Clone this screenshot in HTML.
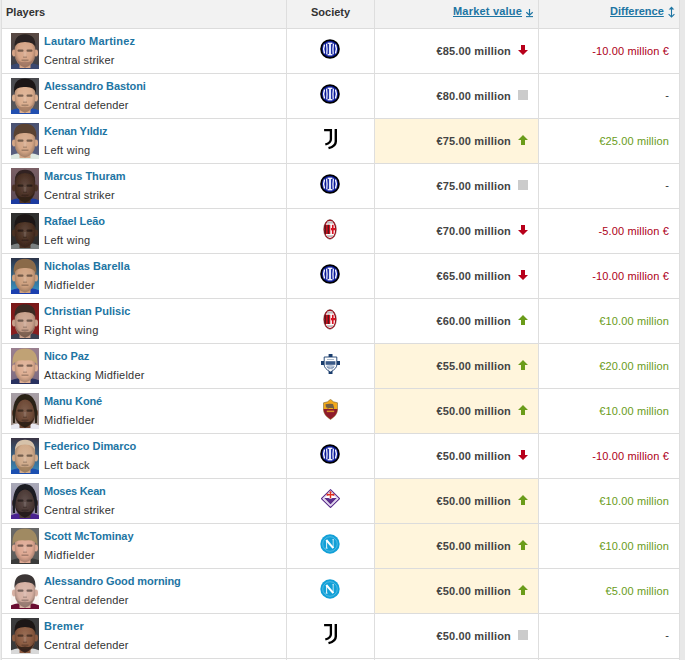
<!DOCTYPE html>
<html><head><meta charset="utf-8"><style>
html,body{margin:0;padding:0}
body{width:685px;height:660px;overflow:hidden;background:#e8e8e8;position:relative;font-family:"Liberation Sans",sans-serif;font-size:11px;color:#333}
.t{position:absolute;left:1px;top:0;width:679px;height:660px;background:#fff}
.hl{position:absolute;height:1px;background:#dcdcdc;left:1px;width:679px}
.vl{position:absolute;width:1px;background:#dedede;top:0;height:660px}
.s{position:absolute;white-space:nowrap;line-height:13px}
.nm{color:#1d75a3;font-weight:bold;left:44px}
.ps{color:#333;left:44px}
.mv{font-weight:bold;color:#444;right:174px;text-align:right;letter-spacing:0.17px}
.df{right:16px;text-align:right;letter-spacing:0.13px}
.red{color:#ad0018}.green{color:#6a9c1a}.dash{color:#333}
.ph{position:absolute;left:11px;width:28px;height:36px;overflow:hidden}
</style></head><body>
<div style="position:absolute;left:0;top:0;width:1px;height:660px;background:#ececec"></div>
<div class="t"></div>
<div style="position:absolute;left:1px;top:0;width:679px;height:28px;background:#f2f2f2"></div>

<div style="position:absolute;left:375px;top:119px;width:163px;height:44px;background:#fff5dc"></div>
<div style="position:absolute;left:375px;top:344px;width:163px;height:44px;background:#fff5dc"></div>
<div style="position:absolute;left:375px;top:389px;width:163px;height:44px;background:#fff5dc"></div>
<div style="position:absolute;left:375px;top:479px;width:163px;height:44px;background:#fff5dc"></div>
<div style="position:absolute;left:375px;top:524px;width:163px;height:44px;background:#fff5dc"></div>
<div style="position:absolute;left:375px;top:569px;width:163px;height:44px;background:#fff5dc"></div>
<div class="hl" style="top:28px"></div>
<div class="hl" style="top:73px"></div>
<div class="hl" style="top:118px"></div>
<div class="hl" style="top:163px"></div>
<div class="hl" style="top:208px"></div>
<div class="hl" style="top:253px"></div>
<div class="hl" style="top:298px"></div>
<div class="hl" style="top:343px"></div>
<div class="hl" style="top:388px"></div>
<div class="hl" style="top:433px"></div>
<div class="hl" style="top:478px"></div>
<div class="hl" style="top:523px"></div>
<div class="hl" style="top:568px"></div>
<div class="hl" style="top:613px"></div>
<div class="hl" style="top:658px"></div>
<div class="vl" style="left:1px"></div>
<div class="vl" style="left:286px"></div>
<div class="vl" style="left:374px"></div>
<div class="vl" style="left:538px"></div>
<div class="vl" style="left:679px"></div>
<div class="s" style="left:6px;top:6px;font-weight:bold;color:#333">Players</div>
<div class="s" style="left:311px;top:6px;font-weight:bold;color:#333">Society</div>
<div class="s" style="left:453px;top:5px;font-weight:bold;color:#1d75a3;text-decoration:underline;letter-spacing:0.2px">Market value</div>
<svg width="10" height="10" viewBox="0 0 10 10" style="position:absolute;left:525px;top:8px"><path d="M4.5 1 V7.2" stroke="#1d75a3" stroke-width="1.2" fill="none"/><path d="M1.3 4.3 L4.5 7.3 L7.7 4.3" stroke="#1d75a3" stroke-width="1.2" fill="none"/><path d="M1 8.6 H8" stroke="#1d75a3" stroke-width="1.1"/></svg>
<div class="s" style="left:610px;top:5px;font-weight:bold;color:#1d75a3;text-decoration:underline">Difference</div>
<svg width="8" height="12" viewBox="0 0 8 12" style="position:absolute;left:667.8px;top:6px"><path d="M3.5 0.4 L6.3 3.4 H0.7 Z" fill="#1d75a3"/><path d="M3.5 3 V10.4" stroke="#1d75a3" stroke-width="1.1" fill="none"/><path d="M0.6 8.2 L3.5 10.9 L6.4 8.2" stroke="#1d75a3" stroke-width="1.1" fill="none"/></svg>
<svg width="28" height="36" viewBox="0 0 28 36" style="position:absolute;left:11px;top:33px"><defs><linearGradient id="g0" x1="0" y1="0" x2="0" y2="1"><stop offset="0" stop-color="#5a4a44"/><stop offset="1" stop-color="#3c4048"/></linearGradient><filter id="b0" x="-10%" y="-10%" width="120%" height="120%"><feGaussianBlur stdDeviation="0.55"/></filter><clipPath id="c0"><rect width="28" height="36"/></clipPath><radialGradient id="r0" cx="0.5" cy="0.45" r="0.6"><stop offset="0" stop-color="#daae94"/><stop offset="0.6" stop-color="#d6a486"/><stop offset="1" stop-color="#95725d"/></radialGradient></defs><rect width="28" height="36" fill="url(#g0)"/><g clip-path="url(#c0)"><g filter="url(#b0)"><path d="M-2 38 V33 Q4 30.5 9 30 H19 Q24 30.5 30 33 V38 Z" fill="#3a4a70"/><rect x="8.5" y="26" width="11" height="9" fill="#d6a486"/><ellipse cx="3" cy="20" rx="2" ry="3.4" fill="#d6a486"/><ellipse cx="25" cy="20" rx="2" ry="3.4" fill="#d6a486"/><path d="M3.8 13 Q3.8 4 14 4 Q24.2 4 24.2 13 V21 Q24.2 31.5 14 34.5 Q3.8 31.5 3.8 21 Z" fill="url(#r0)"/><path d="M4.2 22 Q5.5 31 14 34.8 Q22.5 31 23.8 22 Q22.5 28.5 17.5 29 Q14 27.8 10.5 29 Q5.5 28.5 4.2 22 Z" fill="#9a7060" opacity="0.7"/><path d="M3.6 15 Q2.5 1.5 14 1.2 Q25.5 1.5 24.4 15 Q23.5 9 14 9 Q4.5 9 3.6 15 Z" fill="#2a2420"/><rect x="6.5" y="16.5" width="6" height="2.2" rx="1" fill="#000" opacity="0.45"/><rect x="15.5" y="16.5" width="6" height="2.2" rx="1" fill="#000" opacity="0.45"/><rect x="12.8" y="19" width="2.4" height="5" fill="#fff" opacity="0.12"/><rect x="12" y="23.5" width="4" height="1.3" fill="#000" opacity="0.22"/><rect x="10.5" y="26.5" width="7" height="1.4" fill="#000" opacity="0.28"/></g></g></svg>
<div class="s nm" style="top:35px;letter-spacing:0.207px">Lautaro Martinez</div>
<div class="s ps" style="top:54px;letter-spacing:0.136px">Central striker</div>
<svg width="20" height="20" viewBox="0 0 20 20" style="position:absolute;left:320px;top:38.5px"><circle cx="10" cy="10" r="9.8" fill="#000"/><circle cx="10" cy="10" r="8.1" fill="#0c1c9c"/><path d="M4.5 5.6 Q2.8 10 4.5 14.4" stroke="#fff" stroke-width="1.4" fill="none"/><path d="M15.5 5.6 Q17.2 10 15.5 14.4" stroke="#fff" stroke-width="1.4" fill="none"/><path d="M6.6 4.6 Q7.4 10 6.8 15.4" stroke="#fff" stroke-width="1.2" fill="none"/><path d="M13.4 4.6 Q12.6 10 13.2 15.4" stroke="#fff" stroke-width="1.2" fill="none"/><rect x="8.9" y="4.5" width="2.2" height="11" fill="#e0e6f8"/><rect x="7.6" y="3.6" width="4.8" height="1.3" fill="#fff"/><rect x="7.6" y="15.1" width="4.8" height="1.3" fill="#fff"/></svg>
<div class="s mv" style="top:45px">€85.00 million</div>
<svg width="10" height="10" viewBox="0 0 10 10" style="position:absolute;left:518px;top:45px"><path d="M3 0 H7 V5 H10 L5 10 L0 5 H3 Z" fill="#b8001b"/></svg>
<div class="s df red" style="top:45px">-10.00 million €</div>
<svg width="28" height="36" viewBox="0 0 28 36" style="position:absolute;left:11px;top:78px"><defs><linearGradient id="g1" x1="0" y1="0" x2="0" y2="1"><stop offset="0" stop-color="#4a4a4e"/><stop offset="1" stop-color="#5a5a5e"/></linearGradient><filter id="b1" x="-10%" y="-10%" width="120%" height="120%"><feGaussianBlur stdDeviation="0.55"/></filter><clipPath id="c1"><rect width="28" height="36"/></clipPath><radialGradient id="r1" cx="0.5" cy="0.45" r="0.6"><stop offset="0" stop-color="#e0b79b"/><stop offset="0.6" stop-color="#dcae8e"/><stop offset="1" stop-color="#9a7963"/></radialGradient></defs><rect width="28" height="36" fill="url(#g1)"/><g clip-path="url(#c1)"><g filter="url(#b1)"><path d="M-2 38 V33 Q4 30.5 9 30 H19 Q24 30.5 30 33 V38 Z" fill="#2050b0"/><rect x="8.5" y="26" width="11" height="9" fill="#dcae8e"/><ellipse cx="3" cy="20" rx="2" ry="3.4" fill="#dcae8e"/><ellipse cx="25" cy="20" rx="2" ry="3.4" fill="#dcae8e"/><path d="M3.8 13 Q3.8 4 14 4 Q24.2 4 24.2 13 V21 Q24.2 31.5 14 34.5 Q3.8 31.5 3.8 21 Z" fill="url(#r1)"/><path d="M4.2 22 Q5.5 31 14 34.8 Q22.5 31 23.8 22 Q22.5 28.5 17.5 29 Q14 27.8 10.5 29 Q5.5 28.5 4.2 22 Z" fill="#a07860" opacity="0.7"/><path d="M3.2 15 Q1.5 0.5 14 0.5 Q26.5 0.5 24.8 15 Q23.5 8.5 14 9 Q4.5 8.5 3.2 15 Z" fill="#1c1816"/><rect x="6.5" y="16.5" width="6" height="2.2" rx="1" fill="#000" opacity="0.45"/><rect x="15.5" y="16.5" width="6" height="2.2" rx="1" fill="#000" opacity="0.45"/><rect x="12.8" y="19" width="2.4" height="5" fill="#fff" opacity="0.12"/><rect x="12" y="23.5" width="4" height="1.3" fill="#000" opacity="0.22"/><rect x="10.5" y="26.5" width="7" height="1.4" fill="#000" opacity="0.28"/></g></g></svg>
<div class="s nm" style="top:80px;letter-spacing:-0.082px">Alessandro Bastoni</div>
<div class="s ps" style="top:99px;letter-spacing:0.173px">Central defender</div>
<svg width="20" height="20" viewBox="0 0 20 20" style="position:absolute;left:320px;top:83.5px"><circle cx="10" cy="10" r="9.8" fill="#000"/><circle cx="10" cy="10" r="8.1" fill="#0c1c9c"/><path d="M4.5 5.6 Q2.8 10 4.5 14.4" stroke="#fff" stroke-width="1.4" fill="none"/><path d="M15.5 5.6 Q17.2 10 15.5 14.4" stroke="#fff" stroke-width="1.4" fill="none"/><path d="M6.6 4.6 Q7.4 10 6.8 15.4" stroke="#fff" stroke-width="1.2" fill="none"/><path d="M13.4 4.6 Q12.6 10 13.2 15.4" stroke="#fff" stroke-width="1.2" fill="none"/><rect x="8.9" y="4.5" width="2.2" height="11" fill="#e0e6f8"/><rect x="7.6" y="3.6" width="4.8" height="1.3" fill="#fff"/><rect x="7.6" y="15.1" width="4.8" height="1.3" fill="#fff"/></svg>
<div class="s mv" style="top:90px">€80.00 million</div>
<div style="position:absolute;left:518px;top:90px;width:10px;height:10px;background:#cbcbcb"></div>
<div class="s df dash" style="top:89px">-</div>
<svg width="28" height="36" viewBox="0 0 28 36" style="position:absolute;left:11px;top:123px"><defs><linearGradient id="g2" x1="0" y1="0" x2="0" y2="1"><stop offset="0" stop-color="#4a5272"/><stop offset="1" stop-color="#5a6080"/></linearGradient><filter id="b2" x="-10%" y="-10%" width="120%" height="120%"><feGaussianBlur stdDeviation="0.55"/></filter><clipPath id="c2"><rect width="28" height="36"/></clipPath><radialGradient id="r2" cx="0.5" cy="0.45" r="0.6"><stop offset="0" stop-color="#d9b094"/><stop offset="0.6" stop-color="#d4a686"/><stop offset="1" stop-color="#94745d"/></radialGradient></defs><rect width="28" height="36" fill="url(#g2)"/><g clip-path="url(#c2)"><g filter="url(#b2)"><path d="M-2 38 V33 Q4 30.5 9 30 H19 Q24 30.5 30 33 V38 Z" fill="#dde8e0"/><rect x="8.5" y="26" width="11" height="9" fill="#d4a686"/><ellipse cx="3" cy="20" rx="2" ry="3.4" fill="#d4a686"/><ellipse cx="25" cy="20" rx="2" ry="3.4" fill="#d4a686"/><path d="M3.8 13 Q3.8 4 14 4 Q24.2 4 24.2 13 V21 Q24.2 31.5 14 34.5 Q3.8 31.5 3.8 21 Z" fill="url(#r2)"/><path d="M2.8 17 Q1 0.8 14 0.8 Q27 0.8 25.2 17 Q24 9.5 14 10 Q4 9.5 2.8 17 Z" fill="#5a4232"/><rect x="6.5" y="16.5" width="6" height="2.2" rx="1" fill="#000" opacity="0.45"/><rect x="15.5" y="16.5" width="6" height="2.2" rx="1" fill="#000" opacity="0.45"/><rect x="12.8" y="19" width="2.4" height="5" fill="#fff" opacity="0.12"/><rect x="12" y="23.5" width="4" height="1.3" fill="#000" opacity="0.22"/><rect x="10.5" y="26.5" width="7" height="1.4" fill="#000" opacity="0.28"/></g></g></svg>
<div class="s nm" style="top:125px;letter-spacing:-0.145px">Kenan Yıldız</div>
<div class="s ps" style="top:144px;letter-spacing:0.275px">Left wing</div>
<svg width="14" height="21" viewBox="0 0 14 21" style="position:absolute;left:324px;top:128.6px"><path d="M0.1 1.2 H6.9 V10.2 Q6.9 13.8 1.3 15.5" stroke="#000" stroke-width="2.3" fill="none"/><path d="M11.8 0.1 V12.4 Q11.8 17.2 4.5 19.2" stroke="#000" stroke-width="2.4" fill="none"/></svg>
<div class="s mv" style="top:135px">€75.00 million</div>
<svg width="10" height="10" viewBox="0 0 10 10" style="position:absolute;left:518px;top:135px"><path d="M5 0 L10 5 H7 V10 H3 V5 H0 Z" fill="#6a9c1a"/></svg>
<div class="s df green" style="top:135px">€25.00 million</div>
<svg width="28" height="36" viewBox="0 0 28 36" style="position:absolute;left:11px;top:168px"><defs><linearGradient id="g3" x1="0" y1="0" x2="0" y2="1"><stop offset="0" stop-color="#7a6066"/><stop offset="1" stop-color="#5a4a55"/></linearGradient><filter id="b3" x="-10%" y="-10%" width="120%" height="120%"><feGaussianBlur stdDeviation="0.55"/></filter><clipPath id="c3"><rect width="28" height="36"/></clipPath><radialGradient id="r3" cx="0.5" cy="0.45" r="0.6"><stop offset="0" stop-color="#614a40"/><stop offset="0.6" stop-color="#4c3226"/><stop offset="1" stop-color="#35231a"/></radialGradient></defs><rect width="28" height="36" fill="url(#g3)"/><g clip-path="url(#c3)"><g filter="url(#b3)"><path d="M-2 38 V33 Q4 30.5 9 30 H19 Q24 30.5 30 33 V38 Z" fill="#1a3aa0"/><rect x="8.5" y="26" width="11" height="9" fill="#4c3226"/><ellipse cx="3" cy="20" rx="2" ry="3.4" fill="#4c3226"/><ellipse cx="25" cy="20" rx="2" ry="3.4" fill="#4c3226"/><path d="M3.8 13 Q3.8 4 14 4 Q24.2 4 24.2 13 V21 Q24.2 31.5 14 34.5 Q3.8 31.5 3.8 21 Z" fill="url(#r3)"/><path d="M4.2 22 Q5.5 31 14 34.8 Q22.5 31 23.8 22 Q22.5 28.5 17.5 29 Q14 27.8 10.5 29 Q5.5 28.5 4.2 22 Z" fill="#2a1c16" opacity="0.7"/><path d="M4 14 Q3.5 2 14 1.8 Q24.5 2 24 14 Q23.5 5.5 14 5 Q4.5 5.5 4 14 Z" fill="#302420"/><rect x="6.5" y="16.5" width="6" height="2.2" rx="1" fill="#000" opacity="0.45"/><rect x="15.5" y="16.5" width="6" height="2.2" rx="1" fill="#000" opacity="0.45"/><rect x="12.8" y="19" width="2.4" height="5" fill="#fff" opacity="0.12"/><rect x="12" y="23.5" width="4" height="1.3" fill="#000" opacity="0.22"/><rect x="10.5" y="26.5" width="7" height="1.4" fill="#000" opacity="0.28"/></g></g></svg>
<div class="s nm" style="top:170px;letter-spacing:-0.025px">Marcus Thuram</div>
<div class="s ps" style="top:189px;letter-spacing:0.157px">Central striker</div>
<svg width="20" height="20" viewBox="0 0 20 20" style="position:absolute;left:320px;top:173.5px"><circle cx="10" cy="10" r="9.8" fill="#000"/><circle cx="10" cy="10" r="8.1" fill="#0c1c9c"/><path d="M4.5 5.6 Q2.8 10 4.5 14.4" stroke="#fff" stroke-width="1.4" fill="none"/><path d="M15.5 5.6 Q17.2 10 15.5 14.4" stroke="#fff" stroke-width="1.4" fill="none"/><path d="M6.6 4.6 Q7.4 10 6.8 15.4" stroke="#fff" stroke-width="1.2" fill="none"/><path d="M13.4 4.6 Q12.6 10 13.2 15.4" stroke="#fff" stroke-width="1.2" fill="none"/><rect x="8.9" y="4.5" width="2.2" height="11" fill="#e0e6f8"/><rect x="7.6" y="3.6" width="4.8" height="1.3" fill="#fff"/><rect x="7.6" y="15.1" width="4.8" height="1.3" fill="#fff"/></svg>
<div class="s mv" style="top:180px">€75.00 million</div>
<div style="position:absolute;left:518px;top:180px;width:10px;height:10px;background:#cbcbcb"></div>
<div class="s df dash" style="top:179px">-</div>
<svg width="28" height="36" viewBox="0 0 28 36" style="position:absolute;left:11px;top:213px"><defs><linearGradient id="g4" x1="0" y1="0" x2="0" y2="1"><stop offset="0" stop-color="#303030"/><stop offset="1" stop-color="#2c2c2c"/></linearGradient><filter id="b4" x="-10%" y="-10%" width="120%" height="120%"><feGaussianBlur stdDeviation="0.55"/></filter><clipPath id="c4"><rect width="28" height="36"/></clipPath><radialGradient id="r4" cx="0.5" cy="0.45" r="0.6"><stop offset="0" stop-color="#5f483c"/><stop offset="0.6" stop-color="#4a3022"/><stop offset="1" stop-color="#332117"/></radialGradient></defs><rect width="28" height="36" fill="url(#g4)"/><g clip-path="url(#c4)"><g filter="url(#b4)"><path d="M-2 38 V33 Q4 30.5 9 30 H19 Q24 30.5 30 33 V38 Z" fill="#7a8080"/><rect x="8.5" y="26" width="11" height="9" fill="#4a3022"/><ellipse cx="3" cy="20" rx="2" ry="3.4" fill="#4a3022"/><ellipse cx="25" cy="20" rx="2" ry="3.4" fill="#4a3022"/><path d="M3.8 13 Q3.8 4 14 4 Q24.2 4 24.2 13 V21 Q24.2 31.5 14 34.5 Q3.8 31.5 3.8 21 Z" fill="url(#r4)"/><path d="M3.6 15 Q2.5 1.5 14 1.2 Q25.5 1.5 24.4 15 Q23.5 9 14 9 Q4.5 9 3.6 15 Z" fill="#1a1614"/><rect x="6.5" y="16.5" width="6" height="2.2" rx="1" fill="#000" opacity="0.45"/><rect x="15.5" y="16.5" width="6" height="2.2" rx="1" fill="#000" opacity="0.45"/><rect x="12.8" y="19" width="2.4" height="5" fill="#fff" opacity="0.12"/><rect x="12" y="23.5" width="4" height="1.3" fill="#000" opacity="0.22"/><rect x="10.5" y="26.5" width="7" height="1.4" fill="#000" opacity="0.28"/></g></g></svg>
<div class="s nm" style="top:215px;letter-spacing:-0.08px">Rafael Leão</div>
<div class="s ps" style="top:234px;letter-spacing:0.275px">Left wing</div>
<svg width="14" height="21" viewBox="0 0 14 21" style="position:absolute;left:323.4px;top:218.9px"><ellipse cx="7" cy="10.4" rx="6.3" ry="9.8" fill="#b0101e" stroke="#3a0a0a" stroke-width="0.4"/><ellipse cx="7" cy="10.4" rx="5.1" ry="8.5" fill="#fff"/><path d="M1.9 5.8 H7.3 V15 H1.9 Q1.6 10.4 1.9 5.8 Z" fill="#c8101e"/><rect x="1.8" y="5.8" width="0.9" height="9.2" fill="#222"/><rect x="4.8" y="5.8" width="0.9" height="9.2" fill="#222"/><rect x="8.9" y="5.8" width="1.7" height="9.2" fill="#d8101e"/><rect x="7.9" y="9" width="4.5" height="2.3" fill="#d8101e"/><rect x="4" y="2.6" width="6" height="2" fill="#bcbcbc"/><rect x="4" y="16.2" width="6" height="1.8" fill="#bcbcbc"/></svg>
<div class="s mv" style="top:225px">€70.00 million</div>
<svg width="10" height="10" viewBox="0 0 10 10" style="position:absolute;left:518px;top:225px"><path d="M3 0 H7 V5 H10 L5 10 L0 5 H3 Z" fill="#b8001b"/></svg>
<div class="s df red" style="top:225px">-5.00 million €</div>
<svg width="28" height="36" viewBox="0 0 28 36" style="position:absolute;left:11px;top:258px"><defs><linearGradient id="g5" x1="0" y1="0" x2="0" y2="1"><stop offset="0" stop-color="#2c3448"/><stop offset="1" stop-color="#3a98c8"/></linearGradient><filter id="b5" x="-10%" y="-10%" width="120%" height="120%"><feGaussianBlur stdDeviation="0.55"/></filter><clipPath id="c5"><rect width="28" height="36"/></clipPath><radialGradient id="r5" cx="0.5" cy="0.45" r="0.6"><stop offset="0" stop-color="#d3ab8d"/><stop offset="0.6" stop-color="#cea07e"/><stop offset="1" stop-color="#907058"/></radialGradient></defs><rect width="28" height="36" fill="url(#g5)"/><g clip-path="url(#c5)"><g filter="url(#b5)"><path d="M-2 38 V33 Q4 30.5 9 30 H19 Q24 30.5 30 33 V38 Z" fill="#1a40b0"/><rect x="8.5" y="26" width="11" height="9" fill="#cea07e"/><ellipse cx="3" cy="20" rx="2" ry="3.4" fill="#cea07e"/><ellipse cx="25" cy="20" rx="2" ry="3.4" fill="#cea07e"/><path d="M3.8 13 Q3.8 4 14 4 Q24.2 4 24.2 13 V21 Q24.2 31.5 14 34.5 Q3.8 31.5 3.8 21 Z" fill="url(#r5)"/><path d="M2.8 17 Q1 0.8 14 0.8 Q27 0.8 25.2 17 Q24 9.5 14 10 Q4 9.5 2.8 17 Z" fill="#8a6a4a"/><rect x="6.5" y="16.5" width="6" height="2.2" rx="1" fill="#000" opacity="0.45"/><rect x="15.5" y="16.5" width="6" height="2.2" rx="1" fill="#000" opacity="0.45"/><rect x="12.8" y="19" width="2.4" height="5" fill="#fff" opacity="0.12"/><rect x="12" y="23.5" width="4" height="1.3" fill="#000" opacity="0.22"/><rect x="10.5" y="26.5" width="7" height="1.4" fill="#000" opacity="0.28"/></g></g></svg>
<div class="s nm" style="top:260px;letter-spacing:0.013px">Nicholas Barella</div>
<div class="s ps" style="top:279px;letter-spacing:0.344px">Midfielder</div>
<svg width="20" height="20" viewBox="0 0 20 20" style="position:absolute;left:320px;top:263.5px"><circle cx="10" cy="10" r="9.8" fill="#000"/><circle cx="10" cy="10" r="8.1" fill="#0c1c9c"/><path d="M4.5 5.6 Q2.8 10 4.5 14.4" stroke="#fff" stroke-width="1.4" fill="none"/><path d="M15.5 5.6 Q17.2 10 15.5 14.4" stroke="#fff" stroke-width="1.4" fill="none"/><path d="M6.6 4.6 Q7.4 10 6.8 15.4" stroke="#fff" stroke-width="1.2" fill="none"/><path d="M13.4 4.6 Q12.6 10 13.2 15.4" stroke="#fff" stroke-width="1.2" fill="none"/><rect x="8.9" y="4.5" width="2.2" height="11" fill="#e0e6f8"/><rect x="7.6" y="3.6" width="4.8" height="1.3" fill="#fff"/><rect x="7.6" y="15.1" width="4.8" height="1.3" fill="#fff"/></svg>
<div class="s mv" style="top:270px">€65.00 million</div>
<svg width="10" height="10" viewBox="0 0 10 10" style="position:absolute;left:518px;top:270px"><path d="M3 0 H7 V5 H10 L5 10 L0 5 H3 Z" fill="#b8001b"/></svg>
<div class="s df red" style="top:270px">-10.00 million €</div>
<svg width="28" height="36" viewBox="0 0 28 36" style="position:absolute;left:11px;top:303px"><defs><linearGradient id="g6" x1="0" y1="0" x2="0" y2="1"><stop offset="0" stop-color="#7a1818"/><stop offset="1" stop-color="#8a2020"/></linearGradient><filter id="b6" x="-10%" y="-10%" width="120%" height="120%"><feGaussianBlur stdDeviation="0.55"/></filter><clipPath id="c6"><rect width="28" height="36"/></clipPath><radialGradient id="r6" cx="0.5" cy="0.45" r="0.6"><stop offset="0" stop-color="#ceab98"/><stop offset="0.6" stop-color="#c8a08a"/><stop offset="1" stop-color="#8c7060"/></radialGradient></defs><rect width="28" height="36" fill="url(#g6)"/><g clip-path="url(#c6)"><g filter="url(#b6)"><path d="M-2 38 V33 Q4 30.5 9 30 H19 Q24 30.5 30 33 V38 Z" fill="#3a4050"/><rect x="8.5" y="26" width="11" height="9" fill="#c8a08a"/><ellipse cx="3" cy="20" rx="2" ry="3.4" fill="#c8a08a"/><ellipse cx="25" cy="20" rx="2" ry="3.4" fill="#c8a08a"/><path d="M3.8 13 Q3.8 4 14 4 Q24.2 4 24.2 13 V21 Q24.2 31.5 14 34.5 Q3.8 31.5 3.8 21 Z" fill="url(#r6)"/><path d="M4.2 22 Q5.5 31 14 34.8 Q22.5 31 23.8 22 Q22.5 28.5 17.5 29 Q14 27.8 10.5 29 Q5.5 28.5 4.2 22 Z" fill="#6a5040" opacity="0.7"/><path d="M3.6 15 Q2.5 1.5 14 1.2 Q25.5 1.5 24.4 15 Q23.5 9 14 9 Q4.5 9 3.6 15 Z" fill="#3a2a22"/><rect x="6.5" y="16.5" width="6" height="2.2" rx="1" fill="#000" opacity="0.45"/><rect x="15.5" y="16.5" width="6" height="2.2" rx="1" fill="#000" opacity="0.45"/><rect x="12.8" y="19" width="2.4" height="5" fill="#fff" opacity="0.12"/><rect x="12" y="23.5" width="4" height="1.3" fill="#000" opacity="0.22"/><rect x="10.5" y="26.5" width="7" height="1.4" fill="#000" opacity="0.28"/></g></g></svg>
<div class="s nm" style="top:305px;letter-spacing:0.013px">Christian Pulisic</div>
<div class="s ps" style="top:324px;letter-spacing:0.322px">Right wing</div>
<svg width="14" height="21" viewBox="0 0 14 21" style="position:absolute;left:323.4px;top:308.9px"><ellipse cx="7" cy="10.4" rx="6.3" ry="9.8" fill="#b0101e" stroke="#3a0a0a" stroke-width="0.4"/><ellipse cx="7" cy="10.4" rx="5.1" ry="8.5" fill="#fff"/><path d="M1.9 5.8 H7.3 V15 H1.9 Q1.6 10.4 1.9 5.8 Z" fill="#c8101e"/><rect x="1.8" y="5.8" width="0.9" height="9.2" fill="#222"/><rect x="4.8" y="5.8" width="0.9" height="9.2" fill="#222"/><rect x="8.9" y="5.8" width="1.7" height="9.2" fill="#d8101e"/><rect x="7.9" y="9" width="4.5" height="2.3" fill="#d8101e"/><rect x="4" y="2.6" width="6" height="2" fill="#bcbcbc"/><rect x="4" y="16.2" width="6" height="1.8" fill="#bcbcbc"/></svg>
<div class="s mv" style="top:315px">€60.00 million</div>
<svg width="10" height="10" viewBox="0 0 10 10" style="position:absolute;left:518px;top:315px"><path d="M5 0 L10 5 H7 V10 H3 V5 H0 Z" fill="#6a9c1a"/></svg>
<div class="s df green" style="top:315px">€10.00 million</div>
<svg width="28" height="36" viewBox="0 0 28 36" style="position:absolute;left:11px;top:348px"><defs><linearGradient id="g7" x1="0" y1="0" x2="0" y2="1"><stop offset="0" stop-color="#9a8090"/><stop offset="1" stop-color="#7a6a80"/></linearGradient><filter id="b7" x="-10%" y="-10%" width="120%" height="120%"><feGaussianBlur stdDeviation="0.55"/></filter><clipPath id="c7"><rect width="28" height="36"/></clipPath><radialGradient id="r7" cx="0.5" cy="0.45" r="0.6"><stop offset="0" stop-color="#e1b79f"/><stop offset="0.6" stop-color="#deae92"/><stop offset="1" stop-color="#9b7966"/></radialGradient></defs><rect width="28" height="36" fill="url(#g7)"/><g clip-path="url(#c7)"><g filter="url(#b7)"><path d="M-2 38 V33 Q4 30.5 9 30 H19 Q24 30.5 30 33 V38 Z" fill="#2a3060"/><rect x="8.5" y="26" width="11" height="9" fill="#deae92"/><ellipse cx="3" cy="20" rx="2" ry="3.4" fill="#deae92"/><ellipse cx="25" cy="20" rx="2" ry="3.4" fill="#deae92"/><path d="M3.8 13 Q3.8 4 14 4 Q24.2 4 24.2 13 V21 Q24.2 31.5 14 34.5 Q3.8 31.5 3.8 21 Z" fill="url(#r7)"/><path d="M1.5 17 Q0.5 0.5 14 0.5 Q27.5 0.5 26.5 18 Q24.5 11 14 12.5 Q4.5 11.5 1.5 17 Z" fill="#c0a274"/><rect x="6.5" y="16.5" width="6" height="2.2" rx="1" fill="#000" opacity="0.45"/><rect x="15.5" y="16.5" width="6" height="2.2" rx="1" fill="#000" opacity="0.45"/><rect x="12.8" y="19" width="2.4" height="5" fill="#fff" opacity="0.12"/><rect x="12" y="23.5" width="4" height="1.3" fill="#000" opacity="0.22"/><rect x="10.5" y="26.5" width="7" height="1.4" fill="#000" opacity="0.28"/></g></g></svg>
<div class="s nm" style="top:350px;letter-spacing:-0.1px">Nico Paz</div>
<div class="s ps" style="top:369px;letter-spacing:0.237px">Attacking Midfielder</div>
<svg width="19" height="20" viewBox="0 0 19 20" style="position:absolute;left:321px;top:354px"><rect x="7.6" y="0" width="3.9" height="3" fill="#1a3d6d"/><rect x="0" y="7" width="3.2" height="4" fill="#1a3d6d"/><rect x="15.8" y="7" width="3.2" height="4" fill="#1a3d6d"/><rect x="7.6" y="17" width="3.9" height="3" fill="#1a3d6d"/><path d="M3.2 3 H15.8 V11 Q15.8 14.5 9.5 18 Q3.2 14.5 3.2 11 Z" fill="#fff" stroke="#1a3d6d" stroke-width="0.9"/><rect x="4.6" y="7.2" width="9.8" height="3.6" fill="#3a5a88"/><rect x="6" y="5.2" width="7" height="0.8" fill="#9aaac0"/><path d="M5.5 12.3 Q9.5 11.3 13.5 12.3 M6 13.6 Q9.5 12.8 13 13.6 M7 14.9 Q9.5 14.3 12 14.9" stroke="#4a6a98" stroke-width="0.7" fill="none"/></svg>
<div class="s mv" style="top:360px">€55.00 million</div>
<svg width="10" height="10" viewBox="0 0 10 10" style="position:absolute;left:518px;top:360px"><path d="M5 0 L10 5 H7 V10 H3 V5 H0 Z" fill="#6a9c1a"/></svg>
<div class="s df green" style="top:360px">€20.00 million</div>
<svg width="28" height="36" viewBox="0 0 28 36" style="position:absolute;left:11px;top:393px"><defs><linearGradient id="g8" x1="0" y1="0" x2="0" y2="1"><stop offset="0" stop-color="#a8a0a8"/><stop offset="1" stop-color="#9a8a80"/></linearGradient><filter id="b8" x="-10%" y="-10%" width="120%" height="120%"><feGaussianBlur stdDeviation="0.55"/></filter><clipPath id="c8"><rect width="28" height="36"/></clipPath><radialGradient id="r8" cx="0.5" cy="0.45" r="0.6"><stop offset="0" stop-color="#7f5f4e"/><stop offset="0.6" stop-color="#6e4a36"/><stop offset="1" stop-color="#4d3325"/></radialGradient></defs><rect width="28" height="36" fill="url(#g8)"/><g clip-path="url(#c8)"><g filter="url(#b8)"><path d="M-2 38 V33 Q4 30.5 9 30 H19 Q24 30.5 30 33 V38 Z" fill="#e8e8f0"/><rect x="8.5" y="26" width="11" height="9" fill="#6e4a36"/><ellipse cx="3" cy="20" rx="2" ry="3.4" fill="#6e4a36"/><ellipse cx="25" cy="20" rx="2" ry="3.4" fill="#6e4a36"/><path d="M3.8 13 Q3.8 4 14 4 Q24.2 4 24.2 13 V21 Q24.2 31.5 14 34.5 Q3.8 31.5 3.8 21 Z" fill="url(#r8)"/><path d="M4.2 22 Q5.5 31 14 34.8 Q22.5 31 23.8 22 Q22.5 28.5 17.5 29 Q14 27.8 10.5 29 Q5.5 28.5 4.2 22 Z" fill="#1c1410" opacity="0.7"/><path d="M2 30 Q0 1.5 14 1 Q28 1.5 26 30 L24 30 Q24.5 7.5 14 6.5 Q3.5 7.5 4 30 Z" fill="#2a2018"/><rect x="6.5" y="16.5" width="6" height="2.2" rx="1" fill="#000" opacity="0.45"/><rect x="15.5" y="16.5" width="6" height="2.2" rx="1" fill="#000" opacity="0.45"/><rect x="12.8" y="19" width="2.4" height="5" fill="#fff" opacity="0.12"/><rect x="12" y="23.5" width="4" height="1.3" fill="#000" opacity="0.22"/><rect x="10.5" y="26.5" width="7" height="1.4" fill="#000" opacity="0.28"/></g></g></svg>
<div class="s nm" style="top:395px;letter-spacing:-0.138px">Manu Koné</div>
<div class="s ps" style="top:414px;letter-spacing:0.344px">Midfielder</div>
<svg width="15" height="21" viewBox="0 0 15 21" style="position:absolute;left:323px;top:398.6px"><path d="M7.5 0.3 L10.5 2.8 L14.5 3.8 V10.5 Q14.5 16 7.5 20.5 Q0.5 16 0.5 10.5 V3.8 L4.5 2.8 Z" fill="#f2a91a" stroke="#7a6a3a" stroke-width="0.6"/><path d="M0.6 10 H14.4 V10.5 Q14.4 16 7.5 20.3 Q0.6 16 0.6 10.5 Z" fill="#8e1b2b"/><path d="M2.5 5.2 Q6 4.2 10 5 L11.2 8.8 L10.5 11 L9.8 9 H5.5 L5 11 L4.3 8.6 L3 8.4 Z" fill="#5a5250" opacity="0.85"/><rect x="3.8" y="11.6" width="7.4" height="1.5" fill="#d8902a"/></svg>
<div class="s mv" style="top:405px">€50.00 million</div>
<svg width="10" height="10" viewBox="0 0 10 10" style="position:absolute;left:518px;top:405px"><path d="M5 0 L10 5 H7 V10 H3 V5 H0 Z" fill="#6a9c1a"/></svg>
<div class="s df green" style="top:405px">€10.00 million</div>
<svg width="28" height="36" viewBox="0 0 28 36" style="position:absolute;left:11px;top:438px"><defs><linearGradient id="g9" x1="0" y1="0" x2="0" y2="1"><stop offset="0" stop-color="#3a3444"/><stop offset="1" stop-color="#3a8ec0"/></linearGradient><filter id="b9" x="-10%" y="-10%" width="120%" height="120%"><feGaussianBlur stdDeviation="0.55"/></filter><clipPath id="c9"><rect width="28" height="36"/></clipPath><radialGradient id="r9" cx="0.5" cy="0.45" r="0.6"><stop offset="0" stop-color="#d5b498"/><stop offset="0.6" stop-color="#d0aa8a"/><stop offset="1" stop-color="#917660"/></radialGradient></defs><rect width="28" height="36" fill="url(#g9)"/><g clip-path="url(#c9)"><g filter="url(#b9)"><path d="M-2 38 V33 Q4 30.5 9 30 H19 Q24 30.5 30 33 V38 Z" fill="#1a50b0"/><rect x="8.5" y="26" width="11" height="9" fill="#d0aa8a"/><ellipse cx="3" cy="20" rx="2" ry="3.4" fill="#d0aa8a"/><ellipse cx="25" cy="20" rx="2" ry="3.4" fill="#d0aa8a"/><path d="M3.8 13 Q3.8 4 14 4 Q24.2 4 24.2 13 V21 Q24.2 31.5 14 34.5 Q3.8 31.5 3.8 21 Z" fill="url(#r9)"/><path d="M4.2 22 Q5.5 31 14 34.8 Q22.5 31 23.8 22 Q22.5 28.5 17.5 29 Q14 27.8 10.5 29 Q5.5 28.5 4.2 22 Z" fill="#9a7a58" opacity="0.7"/><path d="M4 14 Q3.5 1.8 14 1.8 Q24.5 1.8 24 14 Q23.5 6.5 14 6.5 Q4.5 6.5 4 14 Z" fill="#d6c2aa"/><rect x="6.5" y="16.5" width="6" height="2.2" rx="1" fill="#000" opacity="0.45"/><rect x="15.5" y="16.5" width="6" height="2.2" rx="1" fill="#000" opacity="0.45"/><rect x="12.8" y="19" width="2.4" height="5" fill="#fff" opacity="0.12"/><rect x="12" y="23.5" width="4" height="1.3" fill="#000" opacity="0.22"/><rect x="10.5" y="26.5" width="7" height="1.4" fill="#000" opacity="0.28"/></g></g></svg>
<div class="s nm" style="top:440px;letter-spacing:-0.047px">Federico Dimarco</div>
<div class="s ps" style="top:459px;letter-spacing:0.112px">Left back</div>
<svg width="20" height="20" viewBox="0 0 20 20" style="position:absolute;left:320px;top:443.5px"><circle cx="10" cy="10" r="9.8" fill="#000"/><circle cx="10" cy="10" r="8.1" fill="#0c1c9c"/><path d="M4.5 5.6 Q2.8 10 4.5 14.4" stroke="#fff" stroke-width="1.4" fill="none"/><path d="M15.5 5.6 Q17.2 10 15.5 14.4" stroke="#fff" stroke-width="1.4" fill="none"/><path d="M6.6 4.6 Q7.4 10 6.8 15.4" stroke="#fff" stroke-width="1.2" fill="none"/><path d="M13.4 4.6 Q12.6 10 13.2 15.4" stroke="#fff" stroke-width="1.2" fill="none"/><rect x="8.9" y="4.5" width="2.2" height="11" fill="#e0e6f8"/><rect x="7.6" y="3.6" width="4.8" height="1.3" fill="#fff"/><rect x="7.6" y="15.1" width="4.8" height="1.3" fill="#fff"/></svg>
<div class="s mv" style="top:450px">€50.00 million</div>
<svg width="10" height="10" viewBox="0 0 10 10" style="position:absolute;left:518px;top:450px"><path d="M3 0 H7 V5 H10 L5 10 L0 5 H3 Z" fill="#b8001b"/></svg>
<div class="s df red" style="top:450px">-10.00 million €</div>
<svg width="28" height="36" viewBox="0 0 28 36" style="position:absolute;left:11px;top:483px"><defs><linearGradient id="g10" x1="0" y1="0" x2="0" y2="1"><stop offset="0" stop-color="#aaaab8"/><stop offset="1" stop-color="#8a80a0"/></linearGradient><filter id="b10" x="-10%" y="-10%" width="120%" height="120%"><feGaussianBlur stdDeviation="0.55"/></filter><clipPath id="c10"><rect width="28" height="36"/></clipPath><radialGradient id="r10" cx="0.5" cy="0.45" r="0.6"><stop offset="0" stop-color="#61514e"/><stop offset="0.6" stop-color="#4c3a36"/><stop offset="1" stop-color="#352825"/></radialGradient></defs><rect width="28" height="36" fill="url(#g10)"/><g clip-path="url(#c10)"><g filter="url(#b10)"><path d="M-2 38 V33 Q4 30.5 9 30 H19 Q24 30.5 30 33 V38 Z" fill="#4a2090"/><rect x="8.5" y="26" width="11" height="9" fill="#4c3a36"/><ellipse cx="3" cy="20" rx="2" ry="3.4" fill="#4c3a36"/><ellipse cx="25" cy="20" rx="2" ry="3.4" fill="#4c3a36"/><path d="M3.8 13 Q3.8 4 14 4 Q24.2 4 24.2 13 V21 Q24.2 31.5 14 34.5 Q3.8 31.5 3.8 21 Z" fill="url(#r10)"/><path d="M4.2 22 Q5.5 31 14 34.8 Q22.5 31 23.8 22 Q22.5 28.5 17.5 29 Q14 27.8 10.5 29 Q5.5 28.5 4.2 22 Z" fill="#1a1414" opacity="0.7"/><path d="M2 30 Q0 1.5 14 1 Q28 1.5 26 30 L24 30 Q24.5 7.5 14 6.5 Q3.5 7.5 4 30 Z" fill="#1a1a20"/><rect x="6.5" y="16.5" width="6" height="2.2" rx="1" fill="#000" opacity="0.45"/><rect x="15.5" y="16.5" width="6" height="2.2" rx="1" fill="#000" opacity="0.45"/><rect x="12.8" y="19" width="2.4" height="5" fill="#fff" opacity="0.12"/><rect x="12" y="23.5" width="4" height="1.3" fill="#000" opacity="0.22"/><rect x="10.5" y="26.5" width="7" height="1.4" fill="#000" opacity="0.28"/></g></g></svg>
<div class="s nm" style="top:485px;letter-spacing:-0.267px">Moses Kean</div>
<div class="s ps" style="top:504px;letter-spacing:0.157px">Central striker</div>
<svg width="19" height="19" viewBox="0 0 19 19" style="position:absolute;left:320.5px;top:489px"><path d="M9.5 0.7 L18.5 9.6 L9.5 18.5 L0.5 9.6 Z" fill="#fff" stroke="#5b2d8c" stroke-width="1.1"/><path d="M9.5 2.7 L16.4 9.6 L9.5 16.5 L2.6 9.6 Z" fill="none" stroke="#c7b6e0" stroke-width="0.6"/><path d="M3.2 9 H7.5 L9.5 10 L11.5 9 H15.8 L9.5 15.4 Z" fill="#5b2d8c"/><rect x="8.8" y="2.8" width="1.4" height="6.6" fill="#e0301e"/><rect x="6.3" y="5" width="6.4" height="1.4" fill="#e0301e"/><circle cx="6.5" cy="5.7" r="1.1" fill="#e0301e"/><circle cx="12.5" cy="5.7" r="1.1" fill="#e0301e"/><circle cx="9.5" cy="3.2" r="1" fill="#e0301e"/></svg>
<div class="s mv" style="top:495px">€50.00 million</div>
<svg width="10" height="10" viewBox="0 0 10 10" style="position:absolute;left:518px;top:495px"><path d="M5 0 L10 5 H7 V10 H3 V5 H0 Z" fill="#6a9c1a"/></svg>
<div class="s df green" style="top:495px">€10.00 million</div>
<svg width="28" height="36" viewBox="0 0 28 36" style="position:absolute;left:11px;top:528px"><defs><linearGradient id="g11" x1="0" y1="0" x2="0" y2="1"><stop offset="0" stop-color="#6a6a6a"/><stop offset="1" stop-color="#5a5a58"/></linearGradient><filter id="b11" x="-10%" y="-10%" width="120%" height="120%"><feGaussianBlur stdDeviation="0.55"/></filter><clipPath id="c11"><rect width="28" height="36"/></clipPath><radialGradient id="r11" cx="0.5" cy="0.45" r="0.6"><stop offset="0" stop-color="#e1b29f"/><stop offset="0.6" stop-color="#dea892"/><stop offset="1" stop-color="#9b7566"/></radialGradient></defs><rect width="28" height="36" fill="url(#g11)"/><g clip-path="url(#c11)"><g filter="url(#b11)"><path d="M-2 38 V33 Q4 30.5 9 30 H19 Q24 30.5 30 33 V38 Z" fill="#3a3a3a"/><rect x="8.5" y="26" width="11" height="9" fill="#dea892"/><ellipse cx="3" cy="20" rx="2" ry="3.4" fill="#dea892"/><ellipse cx="25" cy="20" rx="2" ry="3.4" fill="#dea892"/><path d="M3.8 13 Q3.8 4 14 4 Q24.2 4 24.2 13 V21 Q24.2 31.5 14 34.5 Q3.8 31.5 3.8 21 Z" fill="url(#r11)"/><path d="M1.5 17 Q0.5 0.5 14 0.5 Q27.5 0.5 26.5 18 Q24.5 11 14 12.5 Q4.5 11.5 1.5 17 Z" fill="#a08a62"/><rect x="6.5" y="16.5" width="6" height="2.2" rx="1" fill="#000" opacity="0.45"/><rect x="15.5" y="16.5" width="6" height="2.2" rx="1" fill="#000" opacity="0.45"/><rect x="12.8" y="19" width="2.4" height="5" fill="#fff" opacity="0.12"/><rect x="12" y="23.5" width="4" height="1.3" fill="#000" opacity="0.22"/><rect x="10.5" y="26.5" width="7" height="1.4" fill="#000" opacity="0.28"/></g></g></svg>
<div class="s nm" style="top:530px;letter-spacing:-0.05px">Scott McTominay</div>
<div class="s ps" style="top:549px;letter-spacing:0.344px">Midfielder</div>
<svg width="20" height="20" viewBox="0 0 20 20" style="position:absolute;left:320px;top:533.7px"><circle cx="10" cy="10" r="9.7" fill="#12a0d7"/><circle cx="10" cy="10" r="7.3" fill="none" stroke="#8fd3ef" stroke-width="0.5"/><path d="M6.6 14 V6" stroke="#fff" stroke-width="0.9" fill="none"/><path d="M13.2 14 V5.5" stroke="#cfeaf7" stroke-width="0.9" fill="none"/><path d="M6.3 6 L13.3 14.2" stroke="#fff" stroke-width="2" fill="none"/><path d="M5.6 14.2 H7.6" stroke="#fff" stroke-width="0.8"/><path d="M12.4 5.6 H14" stroke="#cfeaf7" stroke-width="0.8"/></svg>
<div class="s mv" style="top:540px">€50.00 million</div>
<svg width="10" height="10" viewBox="0 0 10 10" style="position:absolute;left:518px;top:540px"><path d="M5 0 L10 5 H7 V10 H3 V5 H0 Z" fill="#6a9c1a"/></svg>
<div class="s df green" style="top:540px">€10.00 million</div>
<svg width="28" height="36" viewBox="0 0 28 36" style="position:absolute;left:11px;top:573px"><defs><linearGradient id="g12" x1="0" y1="0" x2="0" y2="1"><stop offset="0" stop-color="#ffffff"/><stop offset="1" stop-color="#f8f4f0"/></linearGradient><filter id="b12" x="-10%" y="-10%" width="120%" height="120%"><feGaussianBlur stdDeviation="0.55"/></filter><clipPath id="c12"><rect width="28" height="36"/></clipPath><radialGradient id="r12" cx="0.5" cy="0.45" r="0.6"><stop offset="0" stop-color="#dab9ad"/><stop offset="0.6" stop-color="#d6b0a2"/><stop offset="1" stop-color="#957b71"/></radialGradient></defs><rect width="28" height="36" fill="url(#g12)"/><g clip-path="url(#c12)"><g filter="url(#b12)"><path d="M-2 38 V33 Q4 30.5 9 30 H19 Q24 30.5 30 33 V38 Z" fill="#6a1030"/><rect x="8.5" y="26" width="11" height="9" fill="#d6b0a2"/><ellipse cx="3" cy="20" rx="2" ry="3.4" fill="#d6b0a2"/><ellipse cx="25" cy="20" rx="2" ry="3.4" fill="#d6b0a2"/><path d="M3.8 13 Q3.8 4 14 4 Q24.2 4 24.2 13 V21 Q24.2 31.5 14 34.5 Q3.8 31.5 3.8 21 Z" fill="url(#r12)"/><path d="M4.2 22 Q5.5 31 14 34.8 Q22.5 31 23.8 22 Q22.5 28.5 17.5 29 Q14 27.8 10.5 29 Q5.5 28.5 4.2 22 Z" fill="#8a7068" opacity="0.7"/><path d="M3.6 15 Q2.5 1.5 14 1.2 Q25.5 1.5 24.4 15 Q23.5 9 14 9 Q4.5 9 3.6 15 Z" fill="#3a3434"/><rect x="6.5" y="16.5" width="6" height="2.2" rx="1" fill="#000" opacity="0.45"/><rect x="15.5" y="16.5" width="6" height="2.2" rx="1" fill="#000" opacity="0.45"/><rect x="12.8" y="19" width="2.4" height="5" fill="#fff" opacity="0.12"/><rect x="12" y="23.5" width="4" height="1.3" fill="#000" opacity="0.22"/><rect x="10.5" y="26.5" width="7" height="1.4" fill="#000" opacity="0.28"/></g></g></svg>
<div class="s nm" style="top:575px;letter-spacing:-0.086px">Alessandro Good morning</div>
<div class="s ps" style="top:594px;letter-spacing:0.173px">Central defender</div>
<svg width="20" height="20" viewBox="0 0 20 20" style="position:absolute;left:320px;top:578.7px"><circle cx="10" cy="10" r="9.7" fill="#12a0d7"/><circle cx="10" cy="10" r="7.3" fill="none" stroke="#8fd3ef" stroke-width="0.5"/><path d="M6.6 14 V6" stroke="#fff" stroke-width="0.9" fill="none"/><path d="M13.2 14 V5.5" stroke="#cfeaf7" stroke-width="0.9" fill="none"/><path d="M6.3 6 L13.3 14.2" stroke="#fff" stroke-width="2" fill="none"/><path d="M5.6 14.2 H7.6" stroke="#fff" stroke-width="0.8"/><path d="M12.4 5.6 H14" stroke="#cfeaf7" stroke-width="0.8"/></svg>
<div class="s mv" style="top:585px">€50.00 million</div>
<svg width="10" height="10" viewBox="0 0 10 10" style="position:absolute;left:518px;top:585px"><path d="M5 0 L10 5 H7 V10 H3 V5 H0 Z" fill="#6a9c1a"/></svg>
<div class="s df green" style="top:585px">€5.00 million</div>
<svg width="28" height="36" viewBox="0 0 28 36" style="position:absolute;left:11px;top:618px"><defs><linearGradient id="g13" x1="0" y1="0" x2="0" y2="1"><stop offset="0" stop-color="#3c3c3e"/><stop offset="1" stop-color="#3a3a3a"/></linearGradient><filter id="b13" x="-10%" y="-10%" width="120%" height="120%"><feGaussianBlur stdDeviation="0.55"/></filter><clipPath id="c13"><rect width="28" height="36"/></clipPath><radialGradient id="r13" cx="0.5" cy="0.45" r="0.6"><stop offset="0" stop-color="#986d56"/><stop offset="0.6" stop-color="#8a5a40"/><stop offset="1" stop-color="#603e2c"/></radialGradient></defs><rect width="28" height="36" fill="url(#g13)"/><g clip-path="url(#c13)"><g filter="url(#b13)"><path d="M-2 38 V33 Q4 30.5 9 30 H19 Q24 30.5 30 33 V38 Z" fill="#d8d8d8"/><rect x="8.5" y="26" width="11" height="9" fill="#8a5a40"/><ellipse cx="3" cy="20" rx="2" ry="3.4" fill="#8a5a40"/><ellipse cx="25" cy="20" rx="2" ry="3.4" fill="#8a5a40"/><path d="M3.8 13 Q3.8 4 14 4 Q24.2 4 24.2 13 V21 Q24.2 31.5 14 34.5 Q3.8 31.5 3.8 21 Z" fill="url(#r13)"/><path d="M4.2 22 Q5.5 31 14 34.8 Q22.5 31 23.8 22 Q22.5 28.5 17.5 29 Q14 27.8 10.5 29 Q5.5 28.5 4.2 22 Z" fill="#1a1210" opacity="0.7"/><path d="M3.6 15 Q2.5 1.5 14 1.2 Q25.5 1.5 24.4 15 Q23.5 9 14 9 Q4.5 9 3.6 15 Z" fill="#1a1614"/><rect x="6.5" y="16.5" width="6" height="2.2" rx="1" fill="#000" opacity="0.45"/><rect x="15.5" y="16.5" width="6" height="2.2" rx="1" fill="#000" opacity="0.45"/><rect x="12.8" y="19" width="2.4" height="5" fill="#fff" opacity="0.12"/><rect x="12" y="23.5" width="4" height="1.3" fill="#000" opacity="0.22"/><rect x="10.5" y="26.5" width="7" height="1.4" fill="#000" opacity="0.28"/></g></g></svg>
<div class="s nm" style="top:620px;letter-spacing:0.26px">Bremer</div>
<div class="s ps" style="top:639px;letter-spacing:0.173px">Central defender</div>
<svg width="14" height="21" viewBox="0 0 14 21" style="position:absolute;left:324px;top:623.6px"><path d="M0.1 1.2 H6.9 V10.2 Q6.9 13.8 1.3 15.5" stroke="#000" stroke-width="2.3" fill="none"/><path d="M11.8 0.1 V12.4 Q11.8 17.2 4.5 19.2" stroke="#000" stroke-width="2.4" fill="none"/></svg>
<div class="s mv" style="top:630px">€50.00 million</div>
<div style="position:absolute;left:518px;top:630px;width:10px;height:10px;background:#cbcbcb"></div>
<div class="s df dash" style="top:629px">-</div>
</body></html>
